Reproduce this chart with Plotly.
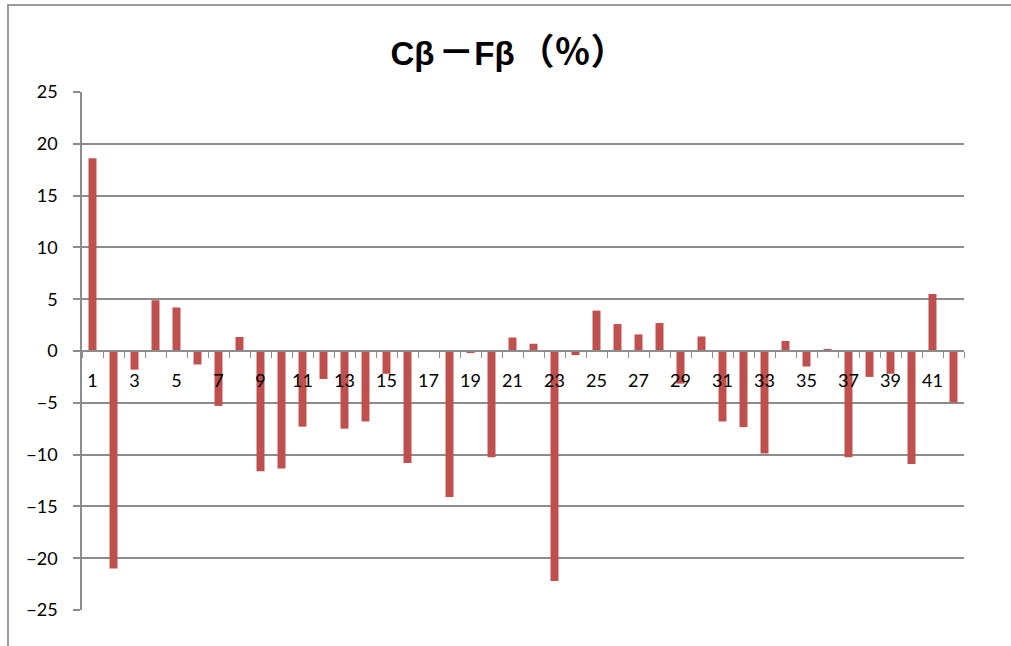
import plotly.graph_objects as go

# Category numbers 1..42 and the Cβ−Fβ difference (%) for each
categories = list(range(1, 43))
diff_pct = [18.6, -21.0, -1.8, 4.9, 4.2, -1.3, -5.3, 1.35, -11.6, -11.35,
            -7.3, -2.7, -7.5, -6.8, -2.2, -10.8, 0.05, -14.1, -0.2, -10.25,
            1.3, 0.7, -22.2, -0.4, 3.9, 2.6, 1.6, 2.7, -3.15, 1.4,
            -6.8, -7.35, -9.9, 0.97, -1.5, 0.13, -10.25, -2.5, -2.2, -10.9,
            5.5, -4.95]
x_tick_vals = list(range(1, 43, 2))
x_tick_text = [str(v) for v in x_tick_vals]
y_tick_vals = [25, 20, 15, 10, 5, 0, -5, -10, -15, -20, -25]

BAR = "#C0504D"
GRID = "#8c8c8c"
TICK_FONT = dict(family="Lato, Open Sans, sans-serif", size=18, color="#000000")

fig = go.Figure(go.Bar(
    x=categories, y=diff_pct,
    marker=dict(color=BAR, line=dict(width=0)),
    width=0.38,
))

GAP = "<span style='font-size:14px'> </span>"
title_text = (f"<b>Cβ{GAP}<span style='font-size:36px'>－</span>Fβ{GAP}"
              "<span style='font-size:36px'>（％）</span></b>")

fig.update_layout(
    width=1011, height=646,
    margin=dict(l=82, r=47, t=92, b=36),
    paper_bgcolor="white", plot_bgcolor="white",
    showlegend=False,
    title=dict(
        text=title_text,
        x=0.503, xanchor="center", y=0.918, yanchor="middle",
        font=dict(family="Arimo, Liberation Sans, Noto Sans CJK JP, sans-serif", size=33, color="#000000"),
    ),
    xaxis=dict(
        range=[0.5, 42.5], anchor="free", position=0.5,
        tickmode="array", tickvals=x_tick_vals, ticktext=x_tick_text,
        ticks="", ticklabelstandoff=14,
        showline=True, linecolor=GRID, linewidth=1.5,
        showgrid=False, zeroline=False,
        minor=dict(tick0=0.5, dtick=1, ticks="outside", ticklen=6,
                   tickcolor=GRID, tickwidth=1, showgrid=False),
        tickfont=TICK_FONT,
    ),
    yaxis=dict(
        range=[-25, 25], tickmode="array", tickvals=y_tick_vals,
        ticks="outside", ticklen=7, tickcolor=GRID, tickwidth=1.5,
        ticklabelstandoff=12,
        showline=True, linecolor=GRID, linewidth=1.5,
        showgrid=True, gridcolor=GRID, gridwidth=1.5,
        zeroline=False,
        tickfont=TICK_FONT,
    ),
)

# Outer chart frame (continues past the right and bottom edges)
fig.add_shape(type="rect", xref="paper", yref="paper",
              x0=(8 - 82) / 882, x1=1.2, y0=-0.3, y1=(610 - 5) / 518,
              line=dict(color="#9a9a9a", width=2), fillcolor="rgba(0,0,0,0)",
              layer="below")

fig.write_html("out.html")
